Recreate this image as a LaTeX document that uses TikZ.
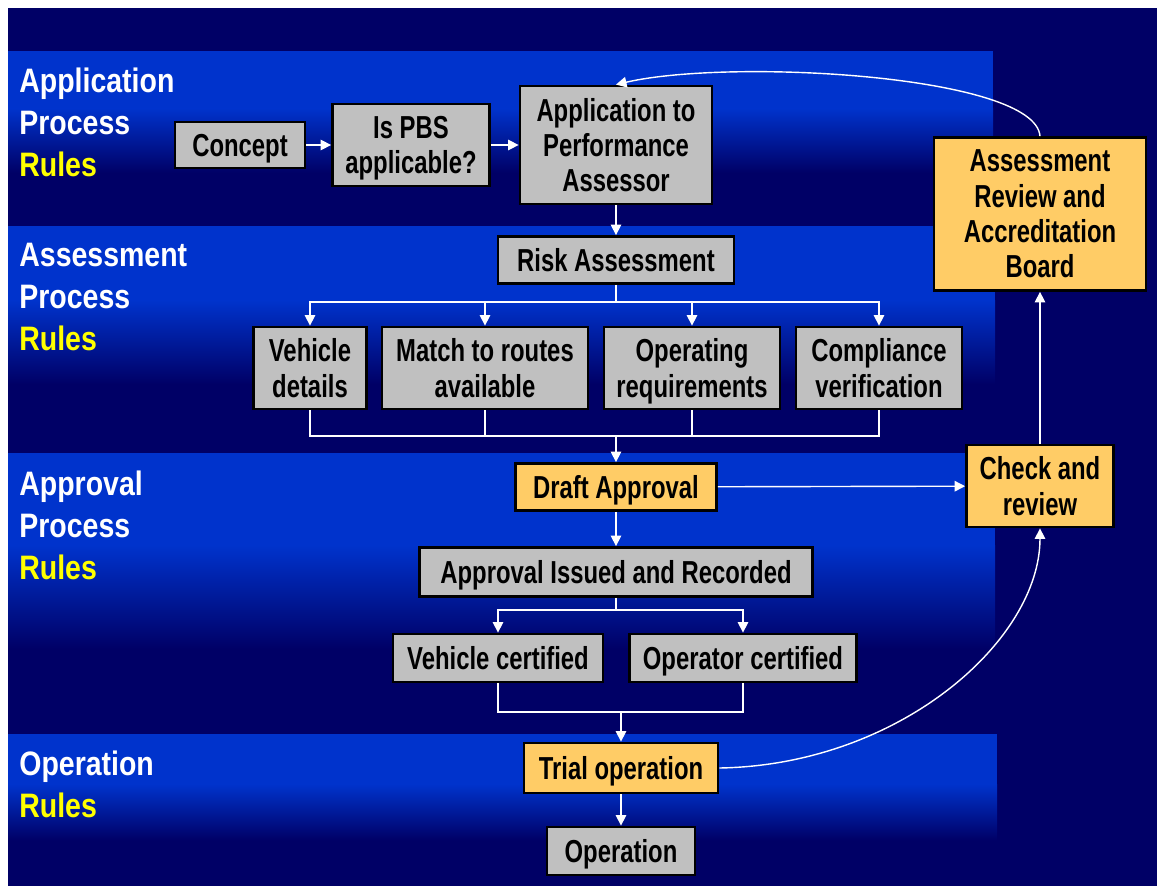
\documentclass[tikz,border=0pt]{standalone}
\usepackage{fontspec}
\setmainfont{Liberation Sans}
\newfontfamily\boxfont[FakeStretch=0.75]{Liberation Sans}
\newfontfamily\lanefont[FakeStretch=0.84]{Liberation Sans}
\usetikzlibrary{arrows.meta}
\definecolor{bandblue}{HTML}{0033CC}
\definecolor{navy}{HTML}{000066}
\definecolor{boxgray}{HTML}{C0C0C0}
\definecolor{boxorange}{HTML}{FFCC66}
\definecolor{rulesyellow}{HTML}{FFFF00}
\tikzset{
  box/.style={draw=black,line width=1.6pt,fill=boxgray,inner sep=0pt,align=center,
    text depth=0pt,font=\boxfont\bfseries\fontsize{18.1}{20.1}\selectfont},
  hibox/.style={box,fill=boxorange},
  lane/.style={anchor=north west,inner sep=0pt,align=left,text=white,
    font=\lanefont\bfseries\fontsize{19.3}{23.8}\selectfont},
  wire/.style={white,line width=0.8pt},
  flow/.style={wire,-{Triangle[length=6pt,width=6pt]}}
}
\begin{document}
\begin{tikzpicture}[x=0.02cm,y=-0.02cm]
\useasboundingbox (0,0) rectangle (1157,886);
\fill[white] (0,0) rectangle (1157,886);
\fill[navy] (8,8) rectangle (1157,886);
% lanes
\foreach \t/\b/\r in {51/225/993,226/452/995,453/733/995,734/886/997}{
  \fill[bandblue] (8,\t) rectangle (\r,{\t+0.33*(\b-\t)});
  \shade[top color=bandblue,bottom color=navy] (8,{\t+0.33*(\b-\t)}) rectangle (\r,{\t+0.7*(\b-\t)});
}
\node[lane] (lblapp) at (19,68) {Application\\Process\\\textcolor{rulesyellow}{Rules}};
\node[lane] (lblass) at (19,243) {Assessment\\Process\\\textcolor{rulesyellow}{Rules}};
\node[lane] (lblappr) at (19,471) {Approval\\Process\\\textcolor{rulesyellow}{Rules}};
\node[lane] (lblop) at (19,751) {Operation\\\textcolor{rulesyellow}{Rules}};

% boxes
\node[box,minimum width=2.6cm,minimum height=0.92cm] (concept) at (240,145) {Concept};
\node[box,minimum width=3.14cm,minimum height=1.64cm] (pbs) at (411,145) {Is PBS\\applicable?};
\node[box,minimum width=3.84cm,minimum height=2.36cm] (app) at (616,145) {Application to\\Performance\\Assessor};
\node[box,minimum width=4.72cm,minimum height=0.94cm] (risk) at (616,260) {Risk Assessment};
\node[box,minimum width=2.26cm,minimum height=1.64cm] (veh) at (310,368) {Vehicle\\details};
\node[box,minimum width=4.12cm,minimum height=1.64cm] (match) at (485,368) {Match to routes\\available};
\node[box,minimum width=3.52cm,minimum height=1.64cm] (oper) at (692,368) {Operating\\requirements};
\node[box,minimum width=3.32cm,minimum height=1.64cm] (comp) at (879,368) {Compliance\\verification};
\node[hibox,minimum width=4.02cm,minimum height=0.94cm] (draft) at (616,487) {Draft Approval};
\node[box,minimum width=7.86cm,minimum height=0.98cm] (issued) at (616,572) {Approval Issued and Recorded};
\node[box,minimum width=4.2cm,minimum height=0.96cm] (vcert) at (498,658) {Vehicle certified};
\node[box,minimum width=4.54cm,minimum height=0.96cm] (ocert) at (743,658) {Operator certified};
\node[hibox,minimum width=3.88cm,minimum height=1cm] (trial) at (621,768) {Trial operation};
\node[box,minimum width=2.96cm,minimum height=0.96cm] (op) at (621,851) {Operation};
\node[hibox,minimum width=2.94cm,minimum height=1.64cm] (check) at (1040,486) {Check and\\review};
\node[hibox,minimum width=4.24cm,minimum height=3.06cm] (board) at (1040,214) {Assessment\\Review and\\Accreditation\\Board};

% connectors
\coordinate (split1) at (616,302);
\coordinate (join1) at (616,436);
\coordinate (split2) at (616,610);
\coordinate (join2) at (621,712);
\draw[flow] (concept) -- (pbs);
\draw[flow] (pbs) -- (app);
\draw[flow] (app) -- (risk);
\draw[wire] (risk) -- (split1);
\foreach \n in {veh,match,oper,comp}{
  \draw[flow] (split1) -| (\n.north);
  \draw[wire] (\n.south) |- (join1);
}
\draw[flow] (join1) -- (draft);
\draw[flow] (draft) -- (issued);
\draw[wire] (issued) -- (split2);
\foreach \n in {vcert,ocert}{
  \draw[flow] (split2) -| (\n.north);
  \draw[wire] (\n.south) |- (join2);
}
\draw[flow] (join2) -- (trial);
\draw[flow] (trial) -- (op);
\draw[flow] (draft) -- (check);
\draw[flow] (check) -- (board);
\draw[flow] (trial.east) .. controls (900,765) and (1040,640) .. (check.south);
\draw[flow] (board.north) .. controls (1035,75) and (730,58) .. (app.north);
\end{tikzpicture}
\end{document}
